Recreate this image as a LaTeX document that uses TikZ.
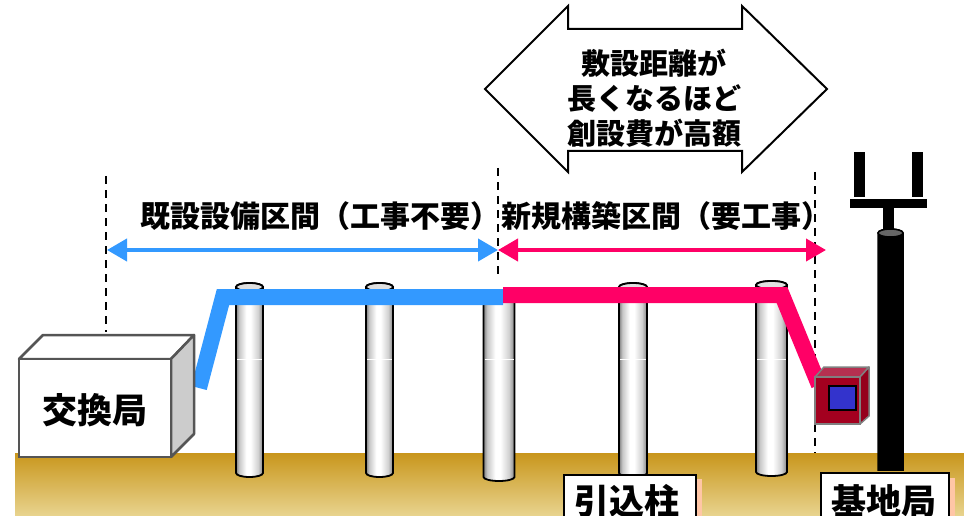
\documentclass[tikz,border=0pt]{standalone}
\usepackage{fontspec}
\newfontfamily\jp{Noto Sans CJK JP}
\usetikzlibrary{arrows.meta}

\definecolor{cableblue}{HTML}{3399FF}
\definecolor{cablepink}{HTML}{FF0066}
\definecolor{groundtop}{HTML}{C9961C}
\definecolor{groundbot}{HTML}{E8D48F}
\definecolor{boxedge}{HTML}{555555}
\definecolor{boxside}{HTML}{CCCCCC}
\definecolor{termfront}{HTML}{A3001F}
\definecolor{termtop}{HTML}{B53050}
\definecolor{termside}{HTML}{95001C}
\definecolor{termwin}{HTML}{3333CC}
\definecolor{labshadow}{HTML}{FFC6A6}

% metal pole: dark rim, bright highlight left of centre
\pgfdeclarehorizontalshading{polemetal}{100bp}{%
  color(0bp)=(black!50); color(25bp)=(black!50); color(31bp)=(black!22);
  color(44bp)=(white); color(52bp)=(white); color(66bp)=(black!18);
  color(75bp)=(black!48); color(100bp)=(black!48)}

% utility pole: centre x, half width, top y, bottom y
\newcommand{\utilpole}[4]{%
  \shade[shading=polemetal, draw=black, line width=1.8pt]
    (#1-#2,#3) -- (#1-#2,#4)
    arc[start angle=180, end angle=0, x radius=#2, y radius=4]
    -- (#1+#2,#3)
    arc[start angle=0, end angle=-180, x radius=#2, y radius=4] -- cycle;
  \draw[black, line width=1.8pt, fill=black!12] (#1,#3) ellipse[x radius=#2, y radius=4];
  \draw[white, line width=0.8pt] (#1-#2+1,359) -- (#1+#2-1,359);
}

\tikzset{
  jptext/.style={font=\jp\bfseries, inner sep=0pt},
  sectionlabel/.style={jptext, font=\jp\bfseries\fontsize{30}{36}\selectfont, anchor=west},
  dashline/.style={black, line width=2pt, dash pattern=on 8pt off 6pt},
  spanarrow/.style={line width=4pt, arrows={Triangle[length=20pt,width=22pt]-Triangle[length=20pt,width=22pt]}},
  cable/.style={line width=16pt, line join=miter},
  labelbox/.style={draw=black, line width=2pt, fill=white},
}

\begin{document}
\begin{tikzpicture}[x=1pt, y=-1pt]
\useasboundingbox (0,0) rectangle (964,516);
\clip (0,0) rectangle (964,516);

% ground
\shade[top color=groundtop, bottom color=groundbot] (15,453) rectangle (964,516);

% boundary markers
\coordinate (dA1) at (106,176); \coordinate (dA2) at (106,332);
\coordinate (dB1) at (498,168); \coordinate (dB2) at (498,276);
\coordinate (dC1) at (815,172); \coordinate (dC2) at (815,453);
\draw[dashline] (dA1) -- (dA2);
\draw[dashline] (dB1) -- (dB2);
\draw[dashline] (dC1) -- (dC2);

% cost arrow
\draw[black, line width=2pt, fill=white, line join=miter]
  (485,89) -- (568,6) -- (568,29) -- (742,29) -- (742,6) -- (827,89)
  -- (742,172) -- (742,151) -- (568,151) -- (568,172) -- cycle;
\node[jptext, align=center, font=\jp\bfseries\fontsize{29}{35}\selectfont] (cost)
  at (654,98) {敷設距離が\\長くなるほど\\創設費が高額};

% section labels and spans
\node[sectionlabel] (existing) at (140,216) {既設設備区間（工事不要）};
\node[sectionlabel] (newbuild) at (501,216) {新規構築区間（要工事）};
\coordinate (sL) at (107,250);
\coordinate (sM) at (498,250);
\coordinate (sR) at (826,250);
\draw[spanarrow, cableblue] (sL) -- (sM);
\draw[spanarrow, cablepink] (sM) -- (sR);

% utility poles
\utilpole{249.5}{13.5}{287}{473}
\utilpole{379.5}{13.5}{287}{473}
\utilpole{499}{15.5}{295}{477}
\utilpole{633}{14}{287}{473}
\utilpole{771.5}{15.5}{285}{472}

% base-station mast and antenna
\fill[black] (883,208) rectangle (894,233);
\fill[black] (850,199) rectangle (927,208);
\fill[black] (854,152) rectangle (865,197);
\fill[black] (912,152) rectangle (923,197);
\draw[black, line width=1.5pt, fill=black] (878,233) -- (878,470) -- (903,470) -- (903,233)
  arc[start angle=0, end angle=-180, x radius=12.5, y radius=4] -- cycle;
\draw[black, line width=1.5pt, fill=black!60] (890.5,233) ellipse[x radius=12.5, y radius=4];

% cables
\draw[cable, cableblue] (199,388) -- (223,297) -- (503,297);
\draw[cable, cablepink] (503,295) -- (782,295) -- (819,385);

% exchange building
\draw[boxedge, line width=2.5pt, fill=white, line join=round]
  (19,359) -- (171,359) -- (194,335) -- (43,335) -- cycle;
\draw[boxedge, line width=2.5pt, fill=boxside, line join=round]
  (171,359) -- (194,335) -- (194,434) -- (171,457) -- cycle;
\draw[boxedge, line width=2.5pt, fill=white] (19,359) rectangle (171,457);
\node[jptext, font=\jp\bfseries\fontsize{35}{40}\selectfont] (exchange) at (95,410) {交換局};

% subscriber terminal box
\draw[black!50, line width=1.5pt, fill=termtop, line join=round]
  (815,377) -- (860,377) -- (869,367) -- (824,367) -- cycle;
\draw[black!50, line width=1.5pt, fill=termside, line join=round]
  (860,377) -- (869,367) -- (869,416) -- (860,424) -- cycle;
\draw[black!50, line width=1.5pt, fill=termfront] (815,377) rectangle (860,424);
\draw[black, line width=1.5pt, fill=termwin] (829,386) rectangle (856,410);

% bottom labels
\fill[labshadow] (570,479) rectangle (702,530);
\node[labelbox, minimum width=132pt, minimum height=60pt, anchor=north west] (dropbox) at (563,474) {};
\node[jptext, font=\jp\bfseries\fontsize{35}{40}\selectfont] (droppole) at (627,501) {引込柱};
\fill[labshadow] (827,478) rectangle (955,530);
\node[labelbox, minimum width=128pt, minimum height=60pt, anchor=north west] (basebox) at (820,472) {};
\node[jptext, font=\jp\bfseries\fontsize{35}{40}\selectfont] (basestation) at (884,501) {基地局};
\end{tikzpicture}
\end{document}
